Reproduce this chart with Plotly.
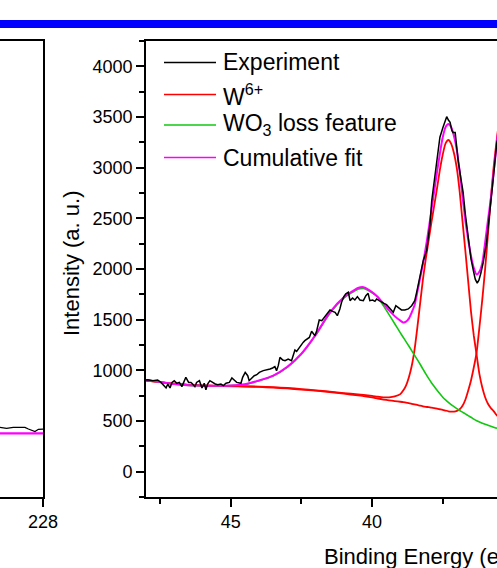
import plotly.graph_objects as go

W, H = 497, 568
FONT = "Liberation Sans, Arial, sans-serif"

# ---------------- data: W 4f / WO3 region (main panel) ----------------
exp_energy = [
    48.00, 47.94, 47.76, 47.59, 47.47, 47.35, 47.29, 47.23, 47.15, 47.08, 47.00,
    46.91, 46.82, 46.73, 46.64, 46.59, 46.49, 46.41, 46.35, 46.27, 46.21, 46.11,
    46.02, 45.94, 45.88, 45.82, 45.74, 45.64, 45.55, 45.46, 45.35, 45.26, 45.17,
    45.05, 44.96, 44.88, 44.79, 44.64, 44.58, 44.49, 44.40, 44.35, 44.25, 44.17,
    44.08, 43.99, 43.85, 43.73, 43.61, 43.52, 43.44, 43.38, 43.32, 43.26, 43.16,
    43.08, 42.97, 42.85, 42.79, 42.73, 42.67, 42.58, 42.49, 42.44, 42.38, 42.32,
    42.22, 42.14, 42.08, 42.02, 41.96, 41.87, 41.78, 41.73, 41.63, 41.55, 41.49,
    41.40, 41.31, 41.23, 41.14, 41.08, 41.00, 40.93, 40.84, 40.78, 40.69, 40.61,
    40.52, 40.43, 40.31, 40.22, 40.14, 40.08, 39.98, 39.90, 39.84, 39.75, 39.66,
    39.58, 39.49, 39.43, 39.31, 39.25, 39.16, 39.08, 38.96, 38.84, 38.72, 38.60,
    38.49, 38.41, 38.31, 38.19, 38.07, 37.95, 37.89, 37.78, 37.68, 37.60, 37.49,
    37.42, 37.36, 37.30, 37.24, 37.18, 37.14, 37.06, 37.02, 36.95, 36.85, 36.78,
    36.70, 36.60, 36.50, 36.42, 36.35, 36.28, 36.22, 36.15, 36.07, 35.95, 35.83,
    35.71, 35.58,
]
exp_counts = [
    905, 908, 898, 905, 881, 849, 826, 865, 826, 881, 898,
    872, 881, 839, 898, 931, 881, 881, 865, 839, 881, 898,
    826, 872, 809, 865, 898, 881, 865, 859, 865, 850, 872,
    881, 925, 905, 881, 872, 931, 980, 947, 898, 931, 947,
    957, 980, 997, 1003, 1013, 1023, 1036, 997, 1046, 1128, 1102,
    1095, 1112, 1095, 1145, 1201, 1187, 1227, 1266, 1276, 1293, 1306,
    1325, 1385, 1359, 1342, 1391, 1497, 1490, 1507, 1549, 1572, 1596,
    1582, 1572, 1540, 1606, 1671, 1727, 1754, 1770, 1688, 1714, 1694,
    1727, 1694, 1688, 1737, 1760, 1688, 1694, 1681, 1704, 1688, 1671,
    1661, 1648, 1628, 1589, 1572, 1638, 1621, 1596, 1596, 1606, 1638,
    1688, 1786, 1918, 2082, 2181, 2440, 2674, 2900, 3140, 3300, 3398,
    3460, 3503, 3470, 3447, 3370, 3348, 3348, 3240, 3060, 2880, 2760,
    2540, 2300, 2100, 1990, 1900, 1860, 1890, 1960, 2060, 2260, 2560,
    2900, 3267,
]

fit_energy = [
    48.0, 47.5, 47.0, 46.5, 46.0, 45.5, 45.0, 44.5, 44.0, 43.5, 43.0, 42.5,
    42.0, 41.5, 41.0, 40.5, 40.3, 40.0, 39.8, 39.6, 39.4, 39.2, 39.0, 38.9,
    38.8, 38.7, 38.6, 38.5, 38.4, 38.3, 38.2, 38.1, 38.0, 37.9, 37.8, 37.7,
    37.6, 37.5, 37.4, 37.3, 37.2, 37.1, 37.0, 36.9, 36.8, 36.7, 36.6, 36.5,
    36.4, 36.3, 36.2, 36.1, 36.0, 35.9, 35.8, 35.7, 35.6, 35.5,
]
w6_peak_a = [
    900, 884, 868, 857, 850, 847, 845, 843, 840, 834, 826, 815,
    803, 790, 776, 762, 757, 748, 740, 734, 734, 742, 765, 800,
    850, 930, 1040, 1200, 1420, 1660, 1900, 2100, 2280, 2460, 2630, 2800,
    2980, 3130, 3240, 3273, 3235, 3140, 2990, 2760, 2470, 2180, 1880, 1580,
    1340, 1150, 960, 830, 735, 670, 628, 598, 560, 535,
]
w6_peak_b = [
    900, 884, 868, 857, 850, 846, 843, 840, 836, 830, 821, 810,
    800, 786, 770, 752, 746, 734, 722, 712, 704, 697, 690, 686,
    681, 676, 670, 664, 658, 651, 645, 640, 636, 631, 627, 622,
    616, 610, 603, 596, 592, 593, 600, 616, 650, 710, 799, 900,
    1030, 1180, 1430, 1700, 2000, 2340, 2690, 3000, 3250, 3480,
]
wo3_loss = [
    905, 884, 864, 852, 849, 848, 850, 861, 898, 945, 1030, 1160,
    1345, 1560, 1712, 1800, 1808, 1765, 1722, 1638, 1550, 1460, 1370, 1327,
    1283, 1240, 1195, 1150, 1105, 1060, 1012, 965, 920, 878, 840, 803,
    768, 735, 708, 684, 662, 642, 622, 604, 587, 570, 553, 537,
    518, 503, 490, 478, 467, 457, 448, 439, 430, 422,
]
cumulative_fit = [
    905, 884, 864, 852, 849, 848, 850, 862, 900, 948, 1035, 1165,
    1350, 1570, 1720, 1812, 1820, 1772, 1725, 1660, 1592, 1535, 1490, 1473,
    1480, 1510, 1570, 1640, 1770, 1910, 2050, 2210, 2390, 2580, 2770, 2960,
    3140, 3300, 3400, 3431, 3400, 3310, 3170, 2960, 2720, 2480, 2290, 2130,
    2010, 1945, 1975, 2060, 2260, 2480, 2690, 2950, 3210, 3450,
]

# ---------------- data: neighbouring panel (edge near 228 eV) ----------------
side_energy = [229.50, 229.27, 229.04, 228.80, 228.63, 228.51, 228.39, 228.28, 228.16, 228.04, 228.00]
side_counts = [437, 427, 437, 434, 437, 421, 405, 395, 418, 415, 420]
side_fit = [378, 378, 378, 378, 378, 378, 378, 378, 378, 378, 378]

y_ticks = [0, 500, 1000, 1500, 2000, 2500, 3000, 3500, 4000]
x_ticks = [45, 40]

legend_labels = ["Experiment", "W<sup>6+</sup>", "WO<sub>3</sub> loss feature", "Cumulative fit"]
legend_colors = ["#000000", "#FF0000", "#10C810", "#FF00FF"]

# ---------------- figure ----------------
fig = go.Figure()

# main panel traces (fit components first, measured spectrum on top)
fig.add_trace(go.Scatter(x=fit_energy, y=w6_peak_a, mode="lines", name="W6+",
                         line=dict(color="#FF0000", width=1.8, shape="spline", smoothing=0.6)))
fig.add_trace(go.Scatter(x=fit_energy, y=w6_peak_b, mode="lines", name="W6+ (2)",
                         line=dict(color="#FF0000", width=1.8, shape="spline", smoothing=0.6)))
fig.add_trace(go.Scatter(x=fit_energy, y=wo3_loss, mode="lines", name="WO3 loss feature",
                         line=dict(color="#10C810", width=1.6, shape="spline", smoothing=0.6)))
fig.add_trace(go.Scatter(x=fit_energy, y=cumulative_fit, mode="lines", name="Cumulative fit",
                         line=dict(color="#FF00FF", width=2, shape="spline", smoothing=0.6)))
fig.add_trace(go.Scatter(x=exp_energy, y=exp_counts, mode="lines", name="Experiment",
                         line=dict(color="#000000", width=1.5)))

# side panel traces
fig.add_trace(go.Scatter(x=side_energy, y=side_fit, mode="lines", xaxis="x2", yaxis="y2",
                         line=dict(color="#FF00FF", width=2.2)))
fig.add_trace(go.Scatter(x=side_energy, y=side_counts, mode="lines", xaxis="x2", yaxis="y2",
                         line=dict(color="#000000", width=1.3)))

def px_x(p):
    return p / W

def px_y(p):
    return 1 - p / H

y_dom = [px_y(497), px_y(41)]
axis_common = dict(showline=True, linecolor="black", linewidth=1.6, showgrid=False,
                   zeroline=False, ticks="outside", tickcolor="black", tickwidth=1.5,
                   ticklen=8, automargin=False,
                   tickfont=dict(family=FONT, size=18, color="black"))

fig.update_layout(
    width=W, height=H, autosize=False,
    margin=dict(l=0, r=0, t=0, b=0, pad=0),
    paper_bgcolor="white", plot_bgcolor="white",
    showlegend=False,
    xaxis=dict(domain=[px_x(146), 1], range=[48, 35.58], tickvals=x_ticks, mirror=True,
               minor=dict(dtick=2.5, tick0=0, ticklen=5, tickwidth=1.5, tickcolor="black",
                          ticks="outside", showgrid=False),
               anchor="y", **axis_common),
    yaxis=dict(domain=y_dom, range=[-250, 4250], tickvals=y_ticks,
               minor=dict(dtick=250, tick0=0, ticklen=5, tickwidth=1.5, tickcolor="black",
                          ticks="outside", showgrid=False),
               anchor="x", **axis_common),
    xaxis2=dict(domain=[0, px_x(43)], range=[229.5, 228], tickvals=[228], mirror=True,
                anchor="y2", **axis_common),
    yaxis2=dict(domain=y_dom, range=[-250, 4250], side="right", anchor="x2",
                showline=True, linecolor="black", linewidth=1.6, showgrid=False,
                zeroline=False, ticks="", showticklabels=False, automargin=False),
)

shapes = [
    # blue rule across the top of the page
    dict(type="rect", xref="paper", yref="paper", x0=0, x1=1,
         y0=px_y(28), y1=px_y(20), fillcolor="#0000FF", line=dict(width=0), layer="above"),
]
annotations = [
    dict(text="Intensity (a. u.)", xref="paper", yref="paper", x=px_x(71), y=px_y(263),
         textangle=-90, showarrow=False, xanchor="center", yanchor="middle",
         font=dict(family=FONT, size=22, color="black")),
    dict(text="Binding Energy (eV)", xref="paper", yref="paper", x=px_x(322), y=px_y(556),
         showarrow=False, xanchor="left", yanchor="middle",
         font=dict(family=FONT, size=22, color="black")),
]

legend_rows = [62.5, 94.5, 125, 157.5]
for label, color, yrow in zip(legend_labels, legend_colors, legend_rows):
    shapes.append(dict(type="line", xref="paper", yref="paper",
                       x0=px_x(164), x1=px_x(216), y0=px_y(yrow), y1=px_y(yrow),
                       line=dict(color=color, width=1.5)))
    annotations.append(dict(text=label, xref="paper", yref="paper",
                            x=px_x(221), y=px_y(yrow), showarrow=False,
                            xanchor="left", yanchor="middle",
                            font=dict(family=FONT, size=23, color="black")))

fig.update_layout(shapes=shapes, annotations=annotations)

# strip the page margin and scrollbars so the fixed-size figure fills the window
page_js = (
    "document.documentElement.style.overflow='hidden';"
    "document.body.style.margin='0';"
    "document.body.style.overflow='hidden';"
)
fig.write_html("out.html", config={"displayModeBar": False}, post_script=page_js)
